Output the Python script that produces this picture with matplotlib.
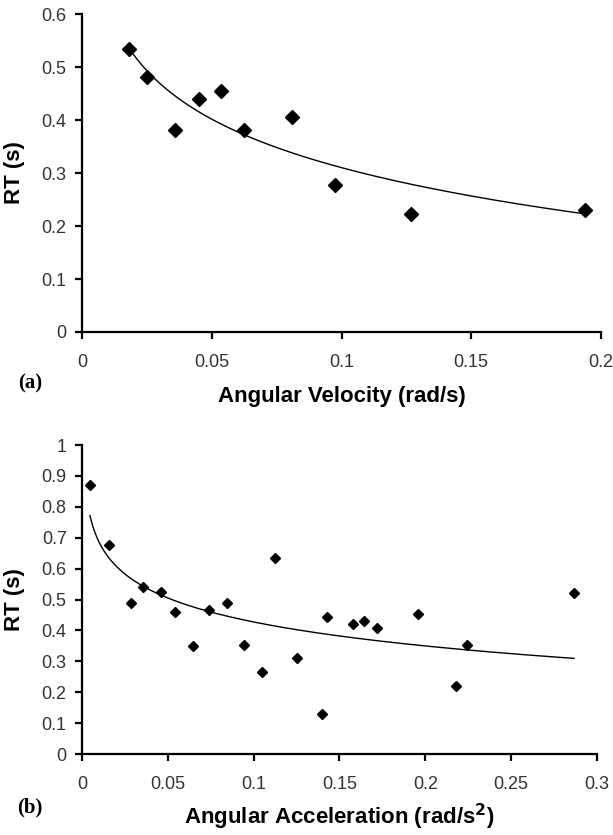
import numpy as np
import matplotlib
matplotlib.use('Agg')
from matplotlib import pyplot as plt

# panel (a): angular velocity vs RT
vel = [0.018, 0.025, 0.036, 0.045, 0.0534, 0.0626, 0.081, 0.0974, 0.1268, 0.1938]
rt_vel = [0.534, 0.481, 0.382, 0.440, 0.455, 0.382, 0.405, 0.277, 0.222, 0.230]

# panel (b): angular acceleration vs RT
acc = [0.0046, 0.0156, 0.0286, 0.0355, 0.0462, 0.054, 0.0645, 0.0741, 0.0847, 0.0945, 0.1048,
       0.1124, 0.1252, 0.1398, 0.143, 0.158, 0.164, 0.172, 0.1957, 0.218, 0.2245, 0.2867]
rt_acc = [0.871, 0.676, 0.488, 0.541, 0.525, 0.461, 0.351, 0.466, 0.490, 0.352, 0.265,
          0.636, 0.312, 0.128, 0.445, 0.422, 0.429, 0.409, 0.452, 0.221, 0.353, 0.522]

plt.rcParams['font.family'] = ['Liberation Sans', 'DejaVu Sans']


def log_fit(x, y):
    # excel style logarithmic trendline
    b, a = np.polyfit(np.log(x), y, 1)
    xs = np.linspace(min(x), max(x), 200)
    return xs, a + b * np.log(xs)


def style(ax, xmax, ymax, xstep, ystep):
    ax.set_xlim(0, xmax)
    ax.set_ylim(0, ymax)
    ax.set_xticks(np.round(np.arange(0, xmax + 1e-9, xstep), 3))
    ax.set_yticks(np.round(np.arange(0, ymax + 1e-9, ystep), 3))
    ax.xaxis.set_major_formatter(plt.FuncFormatter(lambda v, p: f'{v:g}'))
    ax.yaxis.set_major_formatter(plt.FuncFormatter(lambda v, p: f'{v:g}'))
    for s in ['top', 'right']:
        ax.spines[s].set_visible(False)
    for s in ['left', 'bottom']:
        ax.spines[s].set_linewidth(1.6)
    ax.tick_params(direction='out', length=5, width=1.6, labelsize=13, labelcolor='#333333')
    ax.tick_params(axis='x', pad=11)
    ax.tick_params(axis='y', pad=6)


fig = plt.figure(figsize=(6.13, 8.35), dpi=100)

ax1 = fig.add_axes([0.1338, 0.6024, 0.8466, 0.3808])
ax1.plot(vel, rt_vel, 'D', color='black', markersize=7, clip_on=False)
xs, ys = log_fit(vel, rt_vel)
ax1.plot(xs, ys, color='black', linewidth=1)
style(ax1, 0.2, 0.6, 0.05, 0.1)
ax1.set_ylabel('RT (s)', fontsize=16, fontweight='bold', labelpad=12)
ax1.set_xlabel('Angular Velocity (rad/s)', fontsize=16, fontweight='bold', labelpad=11)
fig.text(0.049, 0.541, '(a)', fontsize=15, family='Liberation Serif', fontweight='bold',
         ha='center', va='center')

ax2 = fig.add_axes([0.1338, 0.097, 0.840, 0.370])
ax2.plot(acc, rt_acc, 'D', color='black', markersize=5, clip_on=False)
xs, ys = log_fit(acc, rt_acc)
ax2.plot(xs, ys, color='black', linewidth=1)
style(ax2, 0.3, 1.0, 0.05, 0.1)
ax2.set_ylabel('RT (s)', fontsize=16, fontweight='bold', labelpad=12)
ax2.set_xlabel('Angular Acceleration (rad/s$^\\mathbf{2}$)', fontsize=16, fontweight='bold', labelpad=6)
fig.text(0.049, 0.0335, '(b)', fontsize=15, family='Liberation Serif', fontweight='bold',
         ha='center', va='center')

fig.savefig('out.png', dpi=100)
